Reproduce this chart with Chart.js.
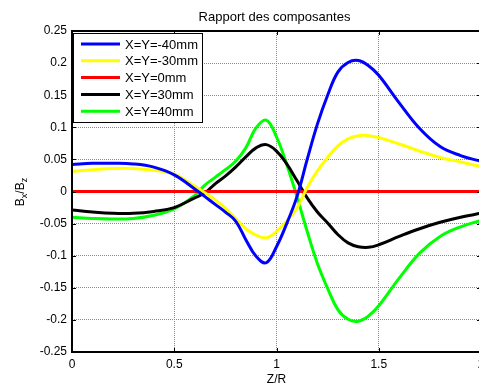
<!DOCTYPE html>
<html>
<head>
<meta charset="utf-8">
<script src="https://cdn.jsdelivr.net/npm/chart.js@4/dist/chart.umd.min.js"></script>
<style>
    html, body { margin: 0; padding: 0; background: #fff; overflow: hidden; }
    #wrap { width: 479px; height: 387px; overflow: hidden; }
</style>
</head>
<body>
<div id="wrap"><canvas id="chart" width="490" height="387"></canvas></div>
<script>
const zValues = [0, 0.1, 0.2, 0.3, 0.4, 0.5, 0.6, 0.65, 0.7, 0.75, 0.8, 0.85, 0.9, 0.95, 1.0,
    1.05, 1.1, 1.15, 1.2, 1.25, 1.3, 1.35, 1.4, 1.45, 1.5, 1.6, 1.7, 1.8, 1.9, 2.0];

const seriesM40 = [0.042, 0.044, 0.044, 0.043, 0.038, 0.026, 0.004, -0.008, -0.020, -0.032, -0.046,
    -0.075, -0.101, -0.111, -0.086, -0.050, -0.008, 0.050, 0.105, 0.150, 0.186, 0.201, 0.204, 0.196,
    0.181, 0.138, 0.098, 0.070, 0.056, 0.047];
const seriesM30 = [0.031, 0.034, 0.036, 0.036, 0.033, 0.027, 0.008, -0.002, -0.013, -0.026, -0.042,
    -0.058, -0.068, -0.072, -0.062, -0.046, -0.026, 0.006, 0.032, 0.053, 0.071, 0.082, 0.087, 0.087,
    0.084, 0.074, 0.063, 0.053, 0.046, 0.039];
const series0 = [0, 0, 0, 0, 0, 0, 0, 0, 0, 0, 0, 0, 0, 0, 0, 0, 0, 0, 0, 0, 0, 0, 0, 0, 0, 0, 0, 0, 0, 0];
const seriesP30 = [-0.029, -0.032, -0.034, -0.034, -0.031, -0.025, -0.010, -0.002, 0.012, 0.024, 0.038,
    0.054, 0.068, 0.073, 0.063, 0.043, 0.017, -0.010, -0.032, -0.049, -0.067, -0.080, -0.086, -0.087,
    -0.083, -0.070, -0.058, -0.048, -0.040, -0.034];
const seriesP40 = [-0.040, -0.042, -0.043, -0.042, -0.037, -0.027, -0.006, 0.010, 0.022, 0.034, 0.047,
    0.068, 0.099, 0.111, 0.085, 0.042, -0.008, -0.062, -0.112, -0.151, -0.184, -0.199, -0.202, -0.194,
    -0.178, -0.135, -0.096, -0.070, -0.055, -0.045];

const seriesLabels = ['X=Y=-40mm', 'X=Y=-30mm', 'X=Y=0mm', 'X=Y=30mm', 'X=Y=40mm'];
const seriesColors = ['#0000ff', '#ffff00', '#ff0000', '#000000', '#00ff00'];

const xTicks = [0, 0.5, 1, 1.5, 2];
const yTicks = [-0.25, -0.2, -0.15, -0.1, -0.05, 0, 0.05, 0.1, 0.15, 0.2, 0.25];

const FONT = '"Liberation Sans", Arial, sans-serif';

function toPoints(values) {
    return zValues.map((z, i) => ({ x: z, y: values[i] }));
}

const allSeries = [seriesM40, seriesM30, series0, seriesP30, seriesP40];

// frame, inward ticks, legend box, title and axis labels (matlab look)
const matlabDecor = {
    id: 'matlabDecor',
    afterDatasetsDraw(chart) {
        const { ctx, chartArea: a, scales } = chart;
        ctx.save();

        ctx.strokeStyle = '#000';
        ctx.lineWidth = 1;
        ctx.beginPath();
        xTicks.forEach((t) => {
            const px = Math.round(scales.x.getPixelForValue(t)) + 0.5;
            ctx.moveTo(px, a.bottom); ctx.lineTo(px, a.bottom - 4);
            ctx.moveTo(px, a.top); ctx.lineTo(px, a.top + 4);
        });
        yTicks.forEach((t) => {
            const py = Math.round(scales.y.getPixelForValue(t)) + 0.5;
            ctx.moveTo(a.left, py); ctx.lineTo(a.left + 4, py);
            ctx.moveTo(a.right, py); ctx.lineTo(a.right - 4, py);
        });
        ctx.stroke();

        ctx.lineWidth = 2;
        ctx.strokeRect(a.left, a.top, a.right - a.left, a.bottom - a.top);

        // legend
        const lx = 73, ly = 33, lw = 129, lh = 89;
        ctx.fillStyle = '#fff';
        ctx.fillRect(lx, ly, lw, lh);
        ctx.lineWidth = 1;
        ctx.strokeRect(lx + 0.5, ly + 0.5, lw, lh);
        ctx.font = '13px ' + FONT;
        ctx.textBaseline = 'middle';
        ctx.textAlign = 'left';
        seriesLabels.forEach((label, i) => {
            const y = 44 + i * 16.8;
            ctx.strokeStyle = seriesColors[i];
            ctx.lineWidth = 3;
            ctx.beginPath();
            ctx.moveTo(81, y); ctx.lineTo(120, y);
            ctx.stroke();
            ctx.fillStyle = '#000';
            ctx.fillText(label, 125, y + 1);
        });

        // title
        const cx = (a.left + a.right) / 2;
        ctx.textAlign = 'center';
        ctx.fillText('Rapport des composantes', cx - 2, 17);

        // x label
        ctx.font = '12px ' + FONT;
        ctx.fillText('Z/R', cx, 380);

        // y label  B_x / B_z
        ctx.translate(21, 192);
        ctx.rotate(-Math.PI / 2);
        const big = '12px ' + FONT, small = '9px ' + FONT;
        const parts = [['B', big, 0], ['x', small, 4], ['/B', big, 0], ['z', small, 4]];
        let total = 0;
        parts.forEach(([t, f]) => { ctx.font = f; total += ctx.measureText(t).width; });
        let x = -total / 2;
        ctx.textAlign = 'left';
        parts.forEach(([t, f, dy]) => {
            ctx.font = f;
            ctx.fillText(t, x, dy);
            x += ctx.measureText(t).width;
        });

        ctx.restore();
    }
};

new Chart(document.getElementById('chart'), {
    type: 'line',
    data: {
        datasets: allSeries.map((values, i) => ({
            label: seriesLabels[i],
            data: toPoints(values),
            borderColor: seriesColors[i],
            borderWidth: 3,
            pointRadius: 0,
            fill: false,
            tension: 0.4,
        }))
    },
    options: {
        responsive: false,
        animation: false,
        layout: { padding: { left: 0, top: 31, right: 9, bottom: 0 } },
        plugins: {
            legend: { display: false },
            title: { display: false },
            tooltip: { enabled: false },
        },
        scales: {
            x: {
                type: 'linear',
                min: 0,
                max: 2,
                afterBuildTicks: (s) => { s.ticks = xTicks.map((v) => ({ value: v })); },
                afterFit: (s) => { s.height = 35; },
                ticks: {
                    color: '#000',
                    font: { family: FONT, size: 12 },
                    padding: 5,
                    maxRotation: 0,
                    callback: (v) => String(v),
                },
                grid: { color: '#8a8a8a', drawTicks: false, lineWidth: 1 },
                border: { display: false, dash: [1, 1] },
            },
            y: {
                min: -0.25,
                max: 0.25,
                afterBuildTicks: (s) => { s.ticks = yTicks.map((v) => ({ value: v })); },
                afterFit: (s) => { s.width = 72; },
                ticks: {
                    color: '#000',
                    font: { family: FONT, size: 12 },
                    padding: 5,
                    callback: (v) => String(parseFloat(Number(v).toFixed(2))),
                },
                grid: { color: '#8a8a8a', drawTicks: false, lineWidth: 1 },
                border: { display: false, dash: [1, 1] },
            }
        }
    },
    plugins: [matlabDecor]
});
</script>
</body>
</html>
